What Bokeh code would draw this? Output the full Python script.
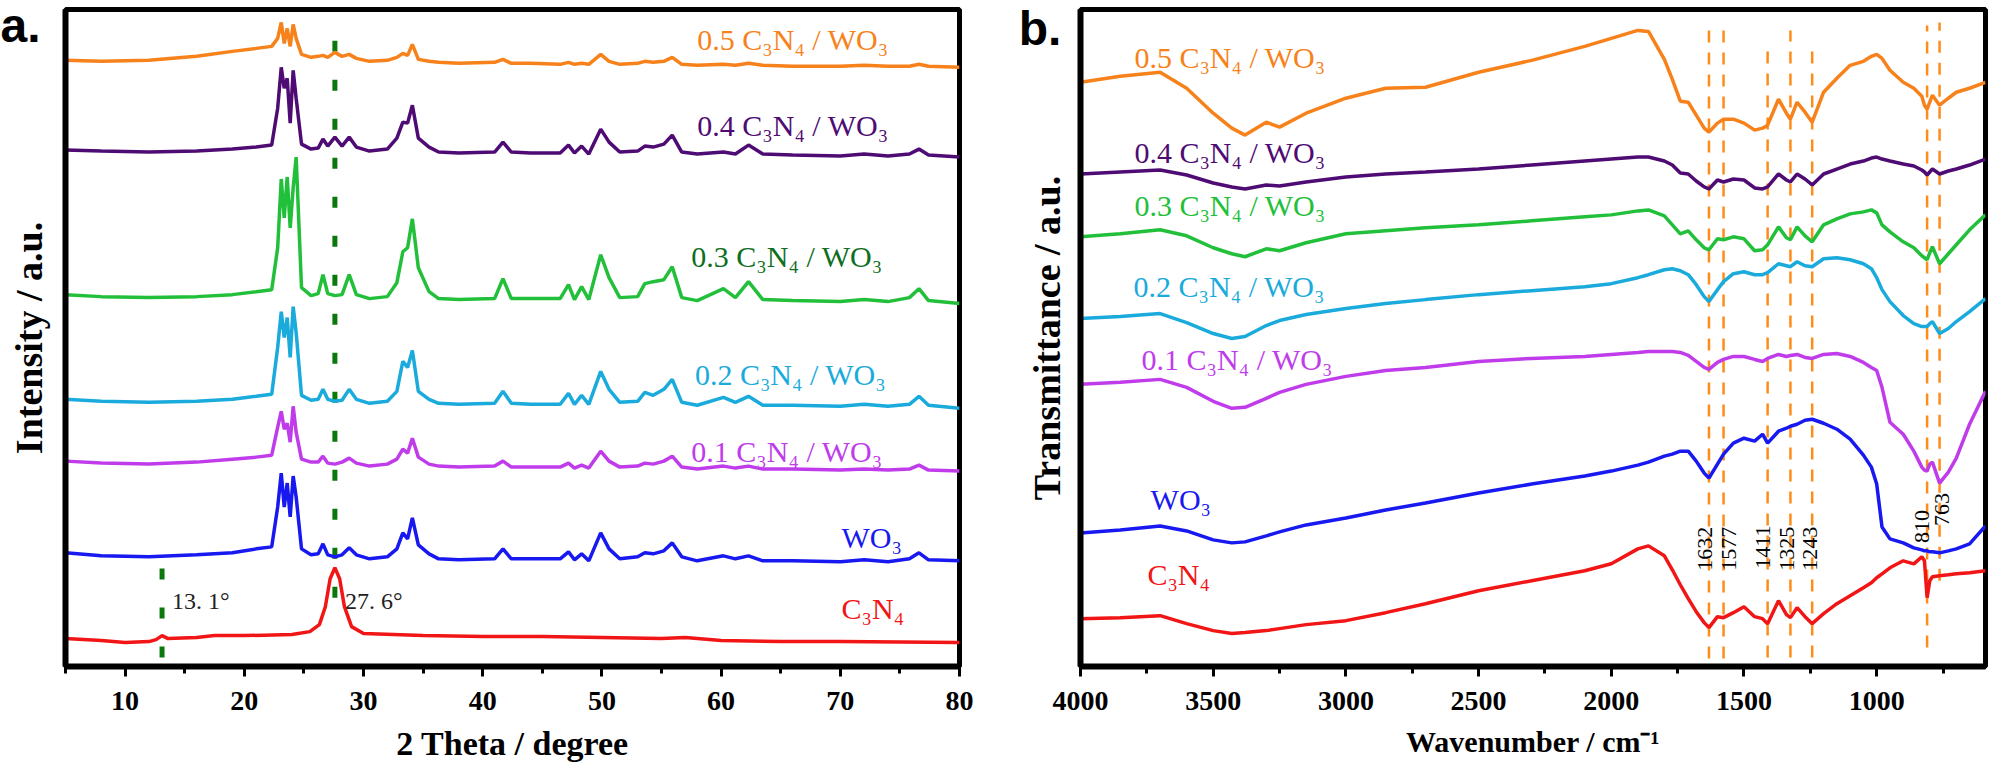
from bokeh.plotting import figure
from bokeh.models import Range1d, Label, SingleIntervalTicker, FixedTicker
from bokeh.layouts import row
from bokeh.embed import file_html
from bokeh.resources import INLINE
from math import pi

# ---------------- XRD (panel a) ----------------
xrd_x = [5, 8, 12, 16, 19, 21, 22.3, 22.8, 23.1, 23.35, 23.6, 23.85, 24.1, 24.35, 24.8, 25.6,
         26.2, 26.6, 27.0, 27.6, 28.2, 28.8, 29.4, 30.5, 32.0, 32.8, 33.3, 33.7, 34.1, 34.6,
         35.5, 36.3, 38, 41.0, 41.7, 42.4, 44, 46.5, 47.2, 47.7, 48.3, 48.9, 49.9, 50.6, 51.5,
         53.0, 53.6, 54.3, 55.2, 55.9, 56.7, 58, 60.2, 61.2, 62.3, 63.5, 66, 70, 72, 74, 75.8,
         76.6, 77.4, 80]
xrd_05 = [608, 607, 608, 612, 617, 620, 622, 630, 646, 625, 640, 622, 644, 630, 614, 611,
          612, 613, 611, 616, 612, 614, 610, 607, 608, 611, 615, 613, 624, 609,
          607, 606, 605, 606, 609, 605, 605, 604, 606, 604, 605, 604, 614, 607, 604,
          605, 607, 606, 607, 611, 604, 603, 604, 603, 605, 603, 602, 602, 603, 602,
          602, 604, 602, 601]
xrd_04 = [518, 517, 516, 517, 519, 521, 523, 560, 601, 580, 590, 545, 598, 570, 524, 519,
          520, 529, 522, 531, 522, 531, 521, 517, 519, 530, 546, 545, 563, 530,
          521, 516, 515, 516, 526, 516, 515, 515, 523, 515, 522, 514, 539, 526, 516,
          517, 522, 521, 524, 533, 516, 514, 516, 514, 523, 514, 513, 512, 514, 512,
          514, 519, 513, 511]
xrd_03 = [373, 371, 370, 371, 373, 376, 378, 420, 489, 450, 491, 440, 480, 511, 380, 372,
          374, 393, 374, 372, 373, 393, 373, 369, 371, 385, 416, 420, 449, 400,
          376, 369, 368, 369, 389, 369, 369, 369, 383, 368, 381, 368, 413, 390, 370,
          371, 384, 386, 388, 401, 370, 367, 379, 370, 386, 368, 367, 366, 368, 366,
          370, 379, 367, 364]
xrd_02 = [268, 266, 265, 266, 268, 271, 273, 320, 356, 330, 350, 310, 361, 335, 272, 267,
          268, 278, 268, 266, 267, 278, 268, 264, 266, 276, 306, 300, 317, 276,
          268, 264, 263, 264, 276, 264, 263, 263, 274, 263, 272, 263, 296, 278, 265,
          266, 275, 272, 278, 288, 265, 262, 270, 265, 271, 262, 262, 261, 263, 261,
          263, 271, 262, 259]
xrd_01 = [206, 204, 203, 205, 208, 210, 212, 240, 256, 238, 244, 225, 261, 235, 208, 205,
          205, 211, 204, 203, 205, 209, 204, 201, 203, 208, 218, 214, 229, 210,
          203, 201, 200, 201, 206, 200, 200, 200, 204, 199, 202, 199, 216, 206, 200,
          201, 204, 203, 206, 211, 200, 198, 201, 199, 201, 198, 198, 197, 198, 197,
          198, 202, 197, 196]
xrd_wo3 = [114, 111, 110, 112, 114, 118, 120, 160, 194, 160, 184, 150, 191, 170, 118, 112,
           113, 123, 112, 110, 112, 119, 112, 108, 110, 118, 134, 128, 149, 122,
           113, 108, 107, 108, 118, 108, 108, 108, 115, 107, 113, 106, 134, 118, 108,
           110, 114, 113, 116, 124, 110, 106, 111, 108, 111, 106, 106, 105, 107, 105,
           108, 114, 107, 106]
xrd_c3n4_x = [5, 8, 10, 12, 12.6, 13.1, 13.6, 16, 17.5, 20, 24, 25.5, 26.3, 26.8, 27.2, 27.6,
              28.0, 28.4, 29.0, 30, 35, 40, 45, 50, 55, 57, 60, 65, 70, 80]
xrd_c3n4 = [28, 26, 24, 25, 27, 31, 28, 29, 31, 31, 32, 35, 42, 60, 88, 99,
            88, 60, 40, 33, 31, 30, 30, 29, 28, 29, 26, 25, 25, 24]
xrd_marks = [13.1, 27.6]
xrd_mark_labels = ["13. 1°", "27. 6°"]

# ---------------- FTIR (panel b) ----------------
ftir_x = [4000, 3850, 3700, 3600, 3500, 3430, 3380, 3300, 3250, 3150, 3000, 2850, 2700, 2500,
          2300, 2100, 2000, 1900, 1860, 1800, 1770, 1740, 1710, 1680, 1650, 1632, 1600, 1577,
          1540, 1500, 1460, 1430, 1411, 1370, 1340, 1325, 1300, 1270, 1243, 1200, 1150, 1100,
          1050, 1020, 1000, 980, 950, 900, 860, 830, 820, 810, 800, 790, 763, 730, 700, 650, 590]
ftir_05 = [586, 592, 596, 580, 555, 540, 533, 546, 541, 555, 570, 580, 581, 596, 608, 622, 630,
           638, 637, 609, 589, 567, 566, 553, 540, 536, 545, 549, 549, 545, 538, 540, 543, 569,
           555, 549, 566, 556, 546, 576, 590, 603, 607, 612, 614, 610, 598, 586, 580, 572, 563,
           559, 566, 573, 563, 570, 576, 580, 586]
ftir_04 = [494, 496, 498, 493, 485, 481, 479, 483, 482, 486, 491, 494, 496, 499, 503, 507, 509,
           511, 511, 507, 503, 495, 494, 487, 481, 479, 488, 486, 489, 488, 480, 479, 481, 494,
           488, 486, 494, 489, 483, 494, 499, 504, 507, 510, 511, 509, 507, 504, 502, 498, 496,
           493, 496, 499, 494, 497, 499, 503, 509]
ftir_03 = [431, 434, 438, 432, 420, 414, 411, 419, 417, 425, 434, 437, 440, 443, 447, 451, 453,
           457, 458, 452, 443, 434, 437, 428, 420, 418, 429, 428, 431, 429, 417, 418, 423, 441,
           430, 428, 441, 432, 426, 443, 449, 454, 456, 458, 455, 443, 436, 426, 420, 412, 410,
           408, 415, 421, 404, 414, 423, 438, 453]
ftir_02 = [349, 351, 354, 345, 334, 329, 331, 342, 347, 353, 359, 364, 368, 373, 377, 381, 384,
           390, 393, 398, 399, 397, 393, 383, 371, 366, 378, 386, 394, 396, 393, 393, 395, 404,
           402, 401, 406, 402, 401, 409, 410, 408, 404, 399, 390, 378, 366, 352, 344, 341, 341,
           341, 344, 346, 334, 339, 346, 356, 369]
ftir_01 = [283, 285, 288, 280, 266, 259, 260, 269, 275, 283, 291, 297, 300, 306, 309, 311, 313,
           315, 316, 316, 316, 315, 312, 306, 300, 298, 305, 308, 311, 311, 308, 306, 309, 313,
           311, 312, 313, 310, 309, 313, 314, 311, 305, 300, 297, 280, 245, 233, 216, 200, 197,
           196, 203, 205, 184, 195, 209, 243, 276]
ftir_wo3 = [134, 137, 141, 136, 127, 124, 125, 131, 135, 142, 149, 157, 164, 174, 183, 191, 196,
            202, 205, 211, 213, 216, 216, 206, 194, 189, 203, 213, 224, 229, 226, 233, 224, 236,
            239, 241, 243, 247, 248, 244, 238, 228, 212, 200, 183, 140, 128, 124, 119, 117, 116,
            116, 115, 115, 114, 116, 118, 123, 141]
ftir_c3n4 = [48, 49, 51, 43, 36, 33, 34, 36, 38, 42, 46, 54, 63, 76, 86, 96, 103, 118, 121, 111,
             97, 82, 68, 55, 44, 39, 50, 49, 54, 60, 50, 48, 43, 66, 52, 49, 59, 50, 43, 53, 63,
             71, 79, 84, 89, 93, 99, 106, 103, 110, 106, 69, 86, 90, 91, 92, 93, 94, 96]
ftir_marks = [1632, 1577, 1411, 1325, 1243, 810, 763]
ftir_mark_labels = ["1632", "1577", "1411", "1325", "1243", "810", "763"]

series_names = ["0.5 C₃N₄ / WO₃", "0.4 C₃N₄ / WO₃", "0.3 C₃N₄ / WO₃", "0.2 C₃N₄ / WO₃",
                "0.1 C₃N₄ / WO₃", "WO₃", "C₃N₄"]
line_colors = ["#F7821B", "#4E0B73", "#22C03A", "#1AABDC", "#C03CEB", "#1818F0", "#F21515"]
label_colors_a = ["#F7821B", "#4E0B73", "#0E6E1E", "#1AABDC", "#C03CEB", "#1818F0", "#F21515"]

# label anchor positions (layout only)
a_label_x = [58.0, 58.0, 57.5, 57.8, 57.5, 70.1, 70.1]
a_label_y = [629, 543, 411, 293, 216, 129, 58]
b_label_x = [3797, 3797, 3797, 3800, 3770, 3736, 3748]
b_label_y = [611, 516, 462, 381, 308, 168, 92]
mark_dx = [-4, 5, -5, -3, -2, -5, 2]
mark_y = [96, 96, 98, 96, 96, 124, 141]

SERIF = "Liberation Serif"


def style(p, ticker, xlabel, ylabel, ystand, xsize):
    p.outline_line_color = "black"
    p.outline_line_width = 5
    p.xgrid.visible = False
    p.ygrid.visible = False
    ax = p.xaxis[0]
    ax.ticker = ticker
    ax.axis_line_width = 6
    ax.major_tick_in = 0
    ax.major_tick_out = 10
    ax.major_tick_line_width = 3
    ax.minor_tick_in = 0
    ax.minor_tick_out = 7
    ax.minor_tick_line_width = 3
    ax.major_label_text_font = SERIF
    ax.major_label_text_font_size = "28px"
    ax.major_label_text_font_style = "bold"
    ax.major_label_text_color = "black"
    ax.major_label_standoff = 15
    ax.axis_label = xlabel
    ax.axis_label_text_font = SERIF
    ax.axis_label_text_font_size = xsize
    ax.axis_label_text_font_style = "bold"
    ax.axis_label_text_color = "black"
    ax.axis_label_standoff = 12
    ay = p.yaxis[0]
    ay.ticker = FixedTicker(ticks=[])
    ay.axis_line_width = 6
    ay.major_tick_out = 0
    ay.major_tick_in = 0
    ay.minor_tick_out = 0
    ay.minor_tick_in = 0
    ay.major_label_text_font_size = "0px"
    ay.major_label_standoff = 0
    ay.axis_label = ylabel
    ay.axis_label_text_font = SERIF
    ay.axis_label_text_font_size = "38px"
    ay.axis_label_text_font_style = "bold"
    ay.axis_label_text_color = "black"
    ay.axis_label_standoff = ystand


# ---------------- panel a ----------------
p1 = figure(width=1034, height=784, x_range=Range1d(5, 80), y_range=Range1d(0, 659),
            output_backend="svg", toolbar_location=None,
            min_border_left=110, min_border_right=30, min_border_top=29, min_border_bottom=96)
p1.margin = (-20, 0, 0, -45)
style(p1, SingleIntervalTicker(interval=10, num_minor_ticks=2), "2 Theta / degree",
      "Intensity / a.u.", 16, "34px")

p1.segment(x0=xrd_marks, y0=[9, 69], x1=xrd_marks, y1=[103, 631], line_color="#0A780A",
           line_width=5, line_dash="11 28")
xrd_series = [xrd_05, xrd_04, xrd_03, xrd_02, xrd_01, xrd_wo3]
for ys, c in zip(xrd_series, line_colors[:6]):
    p1.line(xrd_x, ys, line_color=c, line_width=3.5)
p1.line(xrd_c3n4_x, xrd_c3n4, line_color=line_colors[6], line_width=3.5)

for name, c, x, y in zip(series_names, label_colors_a, a_label_x, a_label_y):
    p1.add_layout(Label(x=x, y=y, text=name, text_font=SERIF, text_font_size="30px",
                        text_color=c, text_align="left", text_baseline="alphabetic"))
for xm, t in zip(xrd_marks, xrd_mark_labels):
    p1.add_layout(Label(x=xm, y=66, x_offset=10, text=t, text_font=SERIF,
                        text_font_size="24px", text_color="#222222", text_align="left",
                        text_baseline="alphabetic"))
p1.add_layout(Label(x=-0.45, y=643, text="a.", text_font="Liberation Sans",
                    text_font_style="bold", text_font_size="48px", text_color="black",
                    text_align="left", text_baseline="alphabetic"), "left")

# ---------------- panel b ----------------
p2 = figure(width=1031, height=784, x_range=Range1d(4000, 590), y_range=Range1d(0, 659),
            output_backend="svg", toolbar_location=None,
            min_border_left=120, min_border_right=6, min_border_top=29, min_border_bottom=96)
p2.margin = (-20, 0, 0, -29)
p2.border_fill_color = None
style(p2, SingleIntervalTicker(interval=500, num_minor_ticks=2), "Wavenumber / cm⁻¹",
      "Transmittance / a.u.", 13, "30px")

p2.segment(x0=ftir_marks, y0=[8, 8, 9, 9, 9, 19, 86], x1=ftir_marks,
           y1=[644, 641, 619, 638, 618, 643, 646], line_color="#FF8C1A", line_width=2.5,
           line_dash="12 10")
ftir_series = [ftir_05, ftir_04, ftir_03, ftir_02, ftir_01, ftir_wo3, ftir_c3n4]
for ys, c in zip(ftir_series, line_colors):
    p2.line(ftir_x, ys, line_color=c, line_width=3.5)

for name, c, x, y in zip(series_names, line_colors, b_label_x, b_label_y):
    p2.add_layout(Label(x=x, y=y, text=name, text_font=SERIF, text_font_size="30px",
                        text_color=c, text_align="left", text_baseline="alphabetic"))
for xm, t, dx, y in zip(ftir_marks, ftir_mark_labels, mark_dx, mark_y):
    p2.add_layout(Label(x=xm, y=y, x_offset=dx, text=t, angle=pi / 2, text_font=SERIF,
                        text_font_size="22px", text_color="black", text_align="left",
                        text_baseline="middle"))
p2.add_layout(Label(x=4233, y=640, text="b.", text_font="Liberation Sans",
                    text_font_style="bold", text_font_size="48px", text_color="black",
                    text_align="left", text_baseline="alphabetic"), "left")

layout = row(p1, p2)
open("out.html", "w").write(file_html(layout, INLINE))
